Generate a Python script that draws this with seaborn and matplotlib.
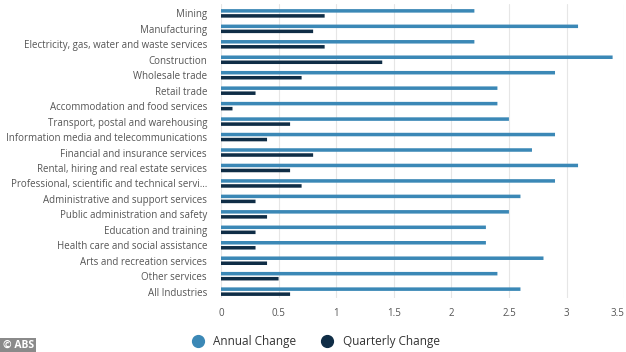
import matplotlib
matplotlib.use("Agg")
import matplotlib.pyplot as plt
from matplotlib.lines import Line2D
import pandas as pd
import seaborn as sns

industries = [
    "Mining",
    "Manufacturing",
    "Electricity, gas, water and waste services",
    "Construction",
    "Wholesale trade",
    "Retail trade",
    "Accommodation and food services",
    "Transport, postal and warehousing",
    "Information media and telecommunications",
    "Financial and insurance services",
    "Rental, hiring and real estate services",
    "Professional, scientific and technical servi\u2026",
    "Administrative and support services",
    "Public administration and safety",
    "Education and training",
    "Health care and social assistance",
    "Arts and recreation services",
    "Other services",
    "All Industries",
]
annual_change = [2.2, 3.1, 2.2, 3.4, 2.9, 2.4, 2.4, 2.5, 2.9, 2.7,
                 3.1, 2.9, 2.6, 2.5, 2.3, 2.3, 2.8, 2.4, 2.6]
quarterly_change = [0.9, 0.8, 0.9, 1.4, 0.7, 0.3, 0.1, 0.6, 0.4, 0.8,
                    0.6, 0.7, 0.3, 0.4, 0.3, 0.3, 0.4, 0.5, 0.6]
series = ["Annual Change", "Quarterly Change"]
colors = ["#3b88b6", "#0f2d46"]

df = pd.DataFrame({
    "industry": industries * 2,
    "series": [series[0]] * len(industries) + [series[1]] * len(industries),
    "value": annual_change + quarterly_change,
})

sns.set_style("white")
plt.rcParams["font.family"] = ["Open Sans", "DejaVu Sans"]

fig = plt.figure(figsize=(6.26, 3.52), dpi=100)
ax = fig.add_axes([0.353, 0.153, 0.644, 0.836])

sns.barplot(data=df, x="value", y="industry", hue="series", orient="h",
            palette=colors, width=0.65, gap=0.3, saturation=1,
            legend=False, ax=ax)
for p in ax.patches:
    p.set_snap(False)
    p.set_linewidth(0)

ax.set_xlim(0, 3.5)
ax.set_ylim(18.42, -0.615)
ax.set_xticks([0, 0.5, 1, 1.5, 2, 2.5, 3, 3.5])
ax.set_xticklabels(["0", "0.5", "1", "1.5", "2", "2.5", "3", "3.5"])
ax.get_xticklabels()[-1].set_horizontalalignment("right")
ax.xaxis.grid(True, color="#e6e6e6", linewidth=0.8)
ax.set_axisbelow(True)
ax.tick_params(axis="both", length=0, colors="#555555", labelsize=7)
ax.tick_params(axis="x", pad=7)
ax.tick_params(axis="y", pad=10)
ax.set_xlabel("")
ax.set_ylabel("")
for s in ax.spines.values():
    s.set_visible(False)

handles = [Line2D([], [], marker="o", linestyle="", markersize=8.5,
                  markerfacecolor=c, markeredgecolor=c) for c in colors]
fig.legend(handles, series, loc="lower center", bbox_to_anchor=(0.5, -0.02),
           ncol=2, frameon=False, fontsize=8.5, handletextpad=0.3,
           columnspacing=1.6, labelcolor="#333333")

fig.text(0.004, 0.012, "\u00a9 ABS", fontsize=7.5, color="white",
         fontweight="bold",
         bbox=dict(facecolor="#8a8a8a", edgecolor="none", pad=1.5))

fig.savefig("out.png", dpi=100)
